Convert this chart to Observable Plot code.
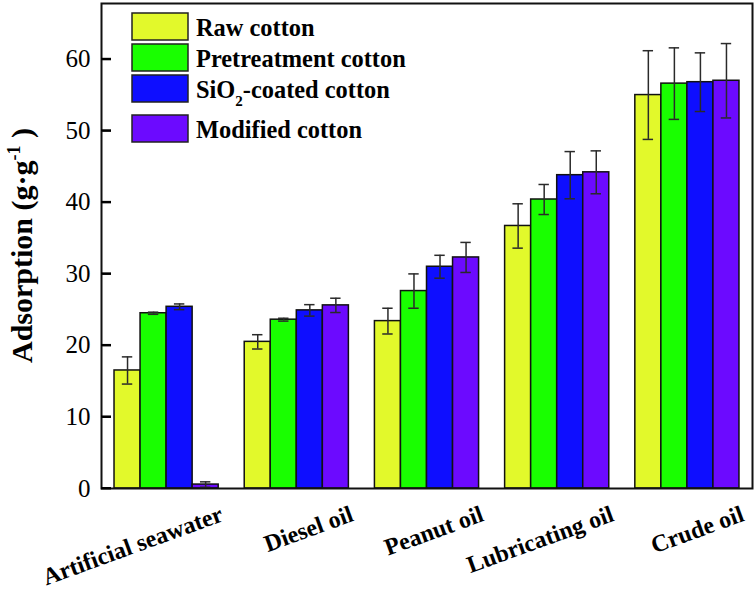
<!DOCTYPE html>
<html><head><meta charset="utf-8">
<script src="https://cdn.jsdelivr.net/npm/d3@7"></script>
<script src="https://cdn.jsdelivr.net/npm/@observablehq/plot@0.6"></script>
<style>body{margin:0;background:#fff} svg{display:block}</style>
</head><body><div id="chart"></div>
<script>
const categories = ["Artificial seawater", "Diesel oil", "Peanut oil", "Lubricating oil", "Crude oil"];
const seriesNames = ["Raw cotton", "Pretreatment cotton", "SiO2-coated cotton", "Modified cotton"];
const seriesColors = ["#e2f92b", "#19ff00", "#0e0eff", "#6c0aff"];
const rawCotton   = [16.5, 20.5, 23.4, 36.7, 55.0];
const rawErr      = [1.9, 1.0, 1.8, 3.1, 6.2];
const pretreated  = [24.5, 23.6, 27.6, 40.4, 56.6];
const pretreatErr = [0.15, 0.2, 2.4, 2.1, 5.0];
const sio2Coated  = [25.4, 24.9, 31.0, 43.8, 56.8];
const sio2Err     = [0.4, 0.8, 1.6, 3.3, 4.1];
const modified    = [0.55, 25.6, 32.3, 44.2, 57.0];
const modErr      = [0.38, 1.0, 2.1, 3.0, 5.2];
const yTicks = [0, 10, 20, 30, 40, 50, 60];
const yLabel = "Adsorption (g·g";
const yLabelSup = "-1";

// grouped layout: each category occupies one unit; the group of bars fills 80% of it
const groupWidth = 0.8, barWidth = groupWidth / seriesNames.length, capHalf = barWidth * 0.2;
const values = [rawCotton, pretreated, sio2Coated, modified];
const errors = [rawErr, pretreatErr, sio2Err, modErr];
const data = categories.flatMap((c, i) => seriesNames.map((s, j) => ({
  category: c, series: s, value: values[j][i], err: errors[j][i],
  x1: i - groupWidth / 2 + j * barWidth, x2: i - groupWidth / 2 + (j + 1) * barWidth
})));

const W = 756, H = 590, mL = 101, mR = 4, mT = 3, mB = 102;
const font = "'Liberation Serif','Times New Roman',serif";
const mid = d => (d.x1 + d.x2) / 2;
const errStyle = {stroke: "#2a2a2a", strokeWidth: 1.5};
const xMin = -0.5, xMax = categories.length - 0.5;
const tickLen = 10 * (xMax - xMin) / (W - mL - mR); // 10px inward ticks, in x units

const plot = Plot.plot({
  width: W, height: H,
  marginLeft: mL, marginRight: mR, marginTop: mT, marginBottom: mB,
  style: {fontFamily: font, background: "white", overflow: "visible", color: "black"},
  x: {domain: [xMin, xMax], axis: null},
  y: {domain: [0, 67.8], axis: null},
  color: {domain: seriesNames, range: seriesColors},
  marks: [
    Plot.rectY(data, {x1: "x1", x2: "x2", y: "value", fill: "series", stroke: "#111", strokeWidth: 1.5}),
    Plot.ruleX(data, {x: mid, y1: d => d.value - d.err, y2: d => d.value + d.err, ...errStyle}),
    Plot.ruleY(data, {x1: d => mid(d) - capHalf, x2: d => mid(d) + capHalf, y: d => d.value + d.err, ...errStyle}),
    Plot.ruleY(data, {x1: d => mid(d) - capHalf, x2: d => mid(d) + capHalf, y: d => d.value - d.err, ...errStyle}),
    Plot.axisY({ticks: yTicks, tickSize: 0, tickPadding: 11, fontSize: 25, tickFormat: d => String(d), label: null}),
    Plot.ruleY(yTicks, {y: d => d, x1: () => xMin, x2: () => xMin + tickLen, stroke: "black", strokeWidth: 2}),
    Plot.frame({stroke: "#111", strokeWidth: 2}),
    Plot.text(categories, {x: (d, i) => i, text: d => d, frameAnchor: "bottom", dx: 58, dy: 32, rotate: -20, textAnchor: "end", lineAnchor: "bottom", fontWeight: "bold", fontSize: 24, fill: "black"})
  ]
});

const svg = d3.select(plot);
// inward y ticks, positioned through Plot's own scales
const ys = plot.scale("y"), xs = plot.scale("x");
svg.append("g").attr("stroke", "black").attr("stroke-width", 2)
  .selectAll("line").data(yTicks).join("line")
  .attr("x1", xs.apply(xMin)).attr("x2", xs.apply(xMin + tickLen))
  .attr("y1", d => ys.apply(d)).attr("y2", d => ys.apply(d));

// Y axis title
const t = svg.append("text")
  .attr("transform", `translate(32,${(mT + H - mB) / 2}) rotate(-90)`)
  .attr("text-anchor", "middle")
  .attr("font-family", font).attr("font-weight", "bold").attr("font-size", 30).attr("fill", "black");
t.append("tspan").text(yLabel);
t.append("tspan").attr("dy", -12).attr("font-size", 18).text(yLabelSup);
t.append("tspan").attr("dy", 12).text(" )");

// Legend (inside plot, top-left)
const legX = 132, swW = 56, swH = 27, rowTops = [13, 44, 75, 115], textX = 196;
const leg = svg.append("g").attr("font-family", font).attr("font-weight", "bold").attr("font-size", 24.4).attr("text-anchor", "start");
seriesNames.forEach((s, i) => {
  leg.append("rect").attr("x", legX).attr("y", rowTops[i]).attr("width", swW).attr("height", swH)
    .attr("fill", seriesColors[i]).attr("stroke", "#222").attr("stroke-width", 1.5);
  const tx = leg.append("text").attr("x", textX).attr("y", rowTops[i] + 23).attr("fill", "black").attr("text-anchor", "start");
  const m = s.match(/^(.*?O)2(.*)$/);
  if (m) {
    tx.append("tspan").text(m[1]);
    tx.append("tspan").attr("dy", 8).attr("font-size", 15).text("2");
    tx.append("tspan").attr("dy", -8).text(m[2]);
  } else tx.text(s);
});

document.getElementById("chart").appendChild(plot);
</script>
</body></html>
